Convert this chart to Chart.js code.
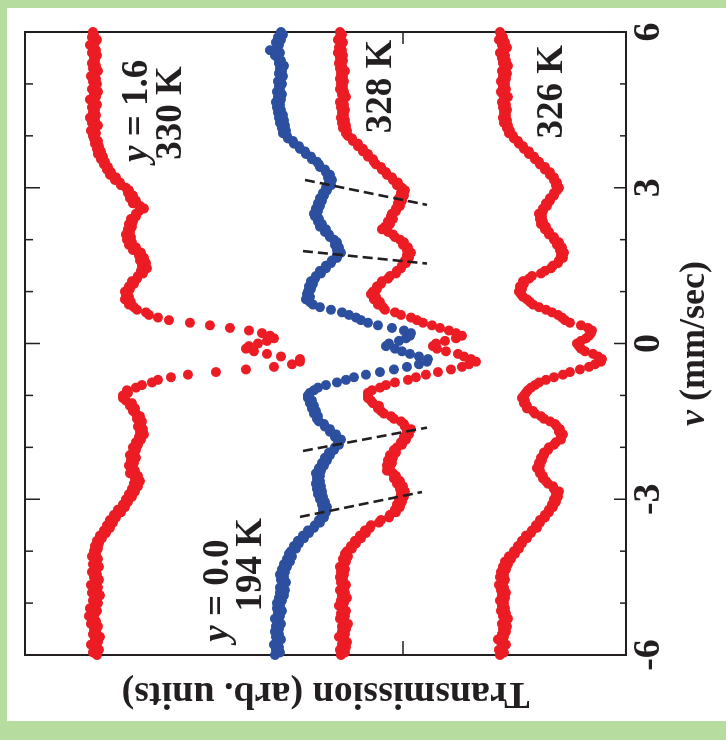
<!DOCTYPE html>
<html>
<head>
<meta charset="utf-8">
<script src="https://cdn.jsdelivr.net/npm/chart.js@4.4.1/dist/chart.umd.min.js"></script>
<style>
  html, body { margin: 0; padding: 0; background: #fff; }
  #frame { position: relative; width: 726px; height: 740px; background: #b6dc9f; overflow: hidden; }
  #paper { position: absolute; left: 7px; top: 8px; width: 719px; height: 713px; background: #fff; }
  /* the chart is drawn in its natural orientation and turned a quarter turn to the left */
  #chart { position: absolute; left: 0; top: 0; transform-origin: 0 0; transform: translate(0, 740px) rotate(-90deg); }
</style>
</head>
<body>
<div id="frame"><div id="paper"></div><canvas id="chart" width="740" height="726"></canvas></div>
<script>
// channel velocities, mm/sec (-6 ... 6)
const velocity = Array.from({length: 241}, (_, i) => +(-6 + i * 0.05).toFixed(2));

// transmission, arb. units, one value per channel
const t330 = [
  529, 533, 527, 532, 535, 528, 531, 526, 533, 530,
  532, 528, 535, 530, 534, 537, 531, 529, 536, 532,
  528, 533, 530, 526, 534, 531, 528, 535, 530, 527,
  532, 529, 534, 530, 527, 533, 531, 528, 534, 530,
  532, 528, 531, 527, 529, 524, 526, 520, 522, 516,
  519, 513, 516, 510, 512, 505, 508, 501, 503, 498,
  500, 494, 497, 491, 494, 488, 492, 486, 491, 488,
  496, 491, 495, 497, 492, 495, 490, 496, 493, 490,
  493, 488, 490, 485, 487, 482, 486, 483, 488, 485,
  484, 489, 486, 490, 493, 491, 496, 494, 500, 503,
  503, 498, 499, 490, 484, 474, 468, 455, 438, 410,
  380, 352, 334, 326, 326, 345, 359, 372, 380, 377,
  368, 359, 352, 356, 364, 377, 396, 416, 436, 457,
  468, 477, 480, 489, 492, 497, 495, 501, 497, 500,
  501, 496, 497, 492, 494, 489, 488, 483, 485, 479,
  484, 480, 486, 482, 487, 485, 493, 490, 497, 494,
  499, 495, 500, 496, 498, 494, 497, 493, 495, 490,
  490, 487, 482, 486, 493, 490, 496, 493, 498, 497,
  500, 505, 506, 511, 510, 516, 515, 519, 518, 522,
  521, 525, 523, 528, 525, 529, 527, 531, 528, 532,
  533, 530, 535, 531, 528, 534, 531, 536, 530, 533,
  531, 534, 529, 533, 536, 530, 532, 528, 534, 531,
  529, 533, 530, 535, 531, 528, 533, 530, 534, 531,
  532, 529, 534, 530, 533, 536, 531, 529, 534, 532,
  533
];
const t194 = [
  351, 346, 350, 347, 352, 348, 345, 350, 347, 351,
  347, 350, 345, 349, 351, 346, 348, 344, 349, 346,
  349, 344, 347, 342, 346, 341, 346, 343, 340, 345,
  342, 346, 341, 344, 339, 342, 336, 339, 334, 337,
  335, 330, 332, 327, 328, 322, 323, 317, 318, 312,
  311, 306, 307, 302, 304, 300, 303, 299, 304, 301,
  306, 303, 308, 304, 309, 305, 310, 306, 309, 306,
  310, 305, 307, 302, 304, 299, 301, 296, 297, 292,
  291, 287, 288, 285, 291, 290, 296, 296, 301, 302,
  307, 309, 308, 312, 310, 314, 312, 316, 314, 318,
  318, 316, 312, 308, 300, 289, 280, 272, 260, 246,
  232, 219, 207, 199, 198, 207, 216, 224, 231, 240,
  237, 227, 220, 216, 215, 222, 234, 248, 258, 265,
  270, 277, 284, 295, 306, 313, 316, 320, 316, 319,
  318, 315, 317, 313, 315, 311, 310, 305, 306, 300,
  300, 295, 294, 289, 289, 285, 289, 287, 291, 289,
  292, 296, 297, 301, 300, 306, 304, 308, 307, 311,
  312, 308, 310, 306, 308, 304, 306, 302, 303, 299,
  300, 295, 297, 294, 298, 296, 300, 301, 306, 307,
  309, 314, 315, 320, 321, 326, 327, 332, 333, 338,
  339, 343, 340, 344, 341, 346, 342, 347, 343, 348,
  345, 349, 346, 350, 345, 348, 344, 349, 346, 347,
  344, 348, 345, 343, 347, 344, 346, 342, 347, 345,
  348, 351, 346, 356, 349, 347, 350, 345, 348, 343,
  345
];
const t328 = [
  285, 281, 286, 280, 284, 279, 283, 287, 281, 284,
  280, 284, 278, 283, 286, 281, 285, 280, 283, 287,
  282, 285, 279, 284, 281, 286, 282, 280, 285, 283,
  286, 282, 285, 281, 286, 283, 280, 283, 278, 281,
  279, 274, 275, 270, 271, 265, 266, 260, 261, 256,
  255, 247, 245, 237, 236, 230, 231, 226, 229, 224,
  227, 222, 225, 221, 226, 223, 229, 226, 232, 230,
  233, 239, 236, 239, 234, 238, 233, 236, 230, 232,
  229, 224, 225, 220, 222, 217, 219, 215, 221, 222,
  225, 232, 235, 242, 245, 248, 247, 253, 255, 258,
  258, 258, 254, 246, 240, 231, 218, 210, 200, 188,
  175, 164, 157, 150, 155, 162, 168, 180, 189, 193,
  190, 181, 170, 164, 170, 177, 186, 194, 203, 209,
  215, 225, 231, 241, 243, 248, 246, 252, 250, 255,
  253, 249, 249, 245, 244, 238, 236, 230, 229, 225,
  224, 220, 221, 217, 219, 215, 219, 218, 223, 222,
  226, 231, 233, 238, 244, 241, 236, 238, 233, 235,
  234, 230, 230, 226, 228, 224, 227, 222, 225, 221,
  224, 229, 228, 233, 234, 239, 240, 244, 245, 250,
  252, 253, 258, 258, 263, 263, 268, 268, 273, 274,
  278, 280, 279, 283, 280, 284, 281, 285, 282, 284,
  281, 285, 282, 286, 283, 280, 284, 282, 286, 283,
  285, 282, 286, 283, 285, 281, 286, 284, 287, 283,
  286, 283, 288, 284, 287, 285, 283, 288, 286, 284,
  286
];
const t326 = [
  126, 122, 127, 123, 120, 125, 128, 122, 124, 120,
  123, 119, 124, 121, 118, 123, 120, 125, 121, 124,
  122, 126, 121, 124, 120, 125, 122, 127, 123, 121,
  126, 122, 125, 120, 123, 118, 121, 115, 117, 111,
  112, 107, 108, 104, 104, 99, 100, 95, 94, 89,
  90, 86, 86, 81, 81, 77, 77, 73, 74, 70,
  72, 68, 70, 67, 72, 73, 78, 80, 83, 83,
  86, 86, 89, 86, 87, 84, 85, 82, 82, 78,
  77, 72, 70, 65, 65, 63, 67, 66, 69, 71,
  76, 82, 85, 91, 93, 99, 99, 102, 101, 104,
  102, 100, 98, 95, 91, 87, 80, 72, 63, 56,
  46, 37, 31, 25, 24, 28, 33, 41, 45, 47,
  49, 45, 40, 37, 35, 34, 38, 45, 56, 61,
  64, 68, 74, 80, 87, 93, 96, 99, 103, 105,
  107, 104, 106, 102, 103, 97, 94, 85, 81, 75,
  73, 68, 67, 63, 65, 62, 66, 64, 69, 67,
  72, 72, 77, 77, 81, 80, 85, 83, 86, 84,
  87, 83, 83, 79, 80, 76, 76, 72, 72, 69,
  67, 70, 69, 72, 72, 76, 76, 81, 81, 86,
  87, 91, 92, 97, 97, 102, 103, 107, 108, 112,
  113, 117, 116, 119, 118, 122, 119, 123, 120, 122,
  119, 123, 120, 124, 121, 118, 123, 125, 120, 123,
  121, 125, 120, 123, 119, 124, 121, 118, 123, 120,
  124, 121, 126, 122, 119, 124, 121, 127, 123, 125,
  126
];

// dashed guides linking the 194 K and 328 K lines
const guideV1 = [3.15, 1.78, -2.07, -3.34];
const guideT1 = [321, 323, 323, 326];
const guideV2 = [2.67, 1.54, -1.62, -2.86];
const guideT2 = [199, 199, 199, 204];

const velTicks = [-6, -5, -4, -3, -2, -1, 0, 1, 2, 3, 4, 5, 6];
const transTicks = [223];

const INK = '#231f20';
const RED = '#ec1c24';
const BLUE = '#2c4f9f';
const SERIF = '"Liberation Serif", "Times New Roman", serif';

const notes = [
  {runs: [{t: 'y', i: true}, {t: ' = 1.6'}], v: 4.48, T: 489},
  {runs: [{t: '330 K'}], v: 4.44, T: 455},
  {runs: [{t: '328 K'}], v: 4.95, T: 245},
  {runs: [{t: '326 K'}], v: 4.85, T: 74},
  {runs: [{t: 'y', i: true}, {t: ' = 0.0'}], v: -4.76, T: 408},
  {runs: [{t: '194 K'}], v: -4.26, T: 375}
];

function drawRuns(ctx, runs, cx, cy, size) {
  const fonts = runs.map(r => (r.i ? 'italic ' : '') + 'bold ' + size + 'px ' + SERIF);
  const widths = runs.map((r, k) => { ctx.font = fonts[k]; return ctx.measureText(r.t).width; });
  let x = cx - widths.reduce((a, b) => a + b, 0) / 2;
  ctx.textAlign = 'left';
  ctx.textBaseline = 'middle';
  runs.forEach((r, k) => { ctx.font = fonts[k]; ctx.fillText(r.t, x, cy); x += widths[k]; });
}

const frameBox = {
  id: 'frameBox',
  beforeDatasetsDraw(chart) {
    const {ctx, chartArea: a, scales: {x, y}} = chart;
    ctx.save();
    ctx.strokeStyle = INK;
    ctx.lineWidth = 2;
    ctx.strokeRect(a.left, a.top, a.right - a.left, a.bottom - a.top);
    ctx.lineWidth = 1.5;
    ctx.beginPath();
    velTicks.forEach(v => {
      const px = x.getPixelForValue(v);
      const major = v % 3 === 0;
      ctx.moveTo(px, a.bottom); ctx.lineTo(px, a.bottom - (major ? 12 : 6));
      ctx.moveTo(px, a.top); ctx.lineTo(px, a.top + (major ? 15 : 8));
    });
    transTicks.forEach(t => {
      const py = y.getPixelForValue(t);
      ctx.moveTo(a.left, py); ctx.lineTo(a.left + 14, py);
      ctx.moveTo(a.right, py); ctx.lineTo(a.right - 12, py);
    });
    ctx.stroke();
    ctx.restore();
  },
  afterDatasetsDraw(chart) {
    const {ctx, chartArea: a, scales: {x, y}} = chart;
    ctx.save();
    ctx.fillStyle = INK;
    drawRuns(ctx, [{t: 'v', i: true}, {t: ' (mm/sec)'}], (a.left + a.right) / 2, a.bottom + 69, 36);
    notes.forEach(n => drawRuns(ctx, n.runs, x.getPixelForValue(n.v), y.getPixelForValue(n.T), 37));
    ctx.restore();
  }
};

const series = [
  {data: t330, color: RED},
  {data: t194, color: BLUE},
  {data: t328, color: RED},
  {data: t326, color: RED}
];

const datasets = guideV1.map((v, k) => ({
  type: 'scatter',
  showLine: true,
  data: [{x: v, y: guideT1[k]}, {x: guideV2[k], y: guideT2[k]}],
  borderColor: INK,
  borderWidth: 2.6,
  borderDash: [10, 5],
  pointRadius: 0,
  order: 0,
  clip: false
})).concat(series.map(s => ({
  data: velocity.map((v, i) => ({x: v, y: s.data[i]})),
  backgroundColor: s.color,
  borderWidth: 0,
  pointRadius: 5,
  order: 1,
  clip: false
})));

new Chart(document.getElementById('chart'), {
  type: 'scatter',
  data: {datasets},
  options: {
    responsive: false,
    devicePixelRatio: 1,
    animation: false,
    events: [],
    layout: {padding: {top: 25, right: 32, left: 0, bottom: 0}},
    plugins: {legend: {display: false}, tooltip: {enabled: false}},
    scales: {
      x: {
        type: 'linear', position: 'bottom', min: -6, max: 6,
        grid: {display: false, drawTicks: false},
        border: {display: false},
        ticks: {stepSize: 3, padding: 0, maxRotation: 0, autoSkip: false, color: INK,
                font: {family: SERIF, size: 38, weight: 'bold'}},
        afterFit(s) { s.height = 100; }
      },
      y: {
        type: 'linear', min: 0, max: 601,
        grid: {display: false, drawTicks: false},
        border: {display: false},
        ticks: {display: false},
        title: {display: true, text: 'Transmission (arb. units)', color: INK,
                font: {family: SERIF, size: 38, weight: 'bold'}, padding: {top: 24, bottom: 0}},
        afterFit(s) { s.width = 85; }
      }
    }
  },
  plugins: [frameBox]
});
</script>
</body>
</html>
